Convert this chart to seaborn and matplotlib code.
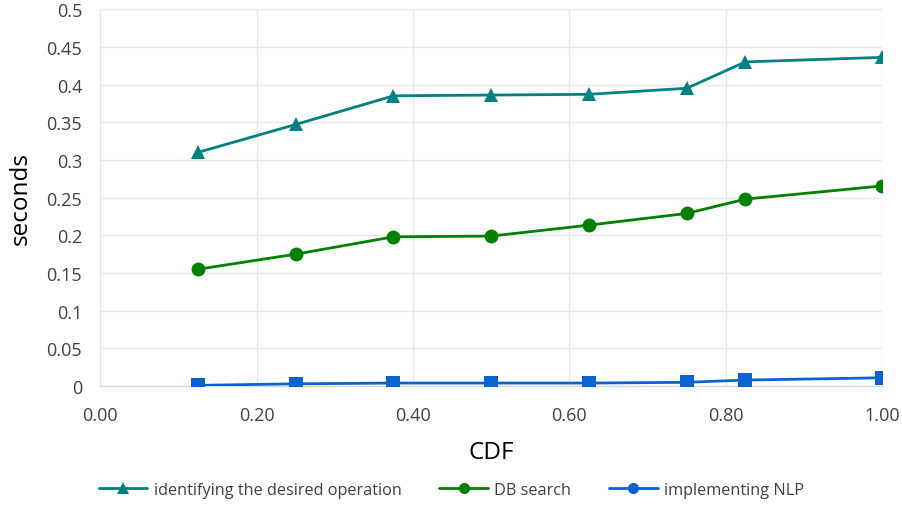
import matplotlib
matplotlib.use("Agg")
import matplotlib.pyplot as plt
from matplotlib.lines import Line2D
import seaborn as sns
import pandas as pd

cdf = [0.125, 0.25, 0.375, 0.5, 0.625, 0.75, 0.825, 1.0]
identify_op = [0.310, 0.347, 0.385, 0.386, 0.387, 0.395, 0.430, 0.436]
db_search = [0.155, 0.175, 0.198, 0.199, 0.2135, 0.229, 0.248, 0.2655]
nlp = [0.001, 0.003, 0.004, 0.004, 0.004, 0.005, 0.008, 0.011]

series_names = ["identifying the desired operation", "DB search", "implementing NLP"]
series_values = [identify_op, db_search, nlp]
colors = ["#008080", "#008000", "#0A63D0"]
markers = ["^", "o", "s"]
sizes = [10.5, 10, 9.5]

rows = []
for name, vals in zip(series_names, series_values):
    for x, y in zip(cdf, vals):
        rows.append({"CDF": x, "seconds": y, "series": name})
df = pd.DataFrame(rows)

sns.set_theme(style="white")
plt.rcParams["font.family"] = ["Open Sans", "DejaVu Sans"]

fig = plt.figure(figsize=(9.03, 5.06), dpi=100)
ax = fig.add_axes([0.111, 0.235, 0.866, 0.745])

for name, col, mk, ms in zip(series_names, colors, markers, sizes):
    sns.lineplot(data=df[df["series"] == name], x="CDF", y="seconds", ax=ax,
                 color=col, marker=mk, markersize=ms, markeredgewidth=0,
                 linewidth=2, legend=False, zorder=3)

xt = [0, 0.2, 0.4, 0.6, 0.8, 1.0]
ax.set_xlim(0, 1.0)
ax.set_ylim(0, 0.5)
ax.set_xticks(xt)
ax.set_xticklabels([f"{v:.2f}" for v in xt])
yt = [0, 0.05, 0.1, 0.15, 0.2, 0.25, 0.3, 0.35, 0.4, 0.45, 0.5]
ax.set_yticks(yt)
ax.set_yticklabels(["0", "0.05", "0.1", "0.15", "0.2", "0.25", "0.3", "0.35", "0.4", "0.45", "0.5"])
ax.tick_params(axis="both", length=0, labelsize=13, labelcolor="#404040")
ax.tick_params(axis="y", pad=13)
ax.tick_params(axis="x", pad=14)
ax.grid(True, color="#e8e8e8", linewidth=1)
ax.set_axisbelow(True)
for s in ["top", "right"]:
    ax.spines[s].set_visible(False)
ax.spines["left"].set_color("#e8e8e8")
ax.spines["bottom"].set_color("#d9d9d9")
for s in ["left", "bottom"]:
    ax.spines[s].set_linewidth(1)
ax.set_xlabel("CDF", fontsize=17.5, color="black", labelpad=12)
ax.set_ylabel("seconds", fontsize=17.5, color="black", labelpad=10)

handles = [
    Line2D([], [], color=colors[0], marker="^", markersize=8, linewidth=2, markeredgewidth=0),
    Line2D([], [], color=colors[1], marker="o", markersize=8, linewidth=2, markeredgewidth=0),
    Line2D([], [], color=colors[2], marker="o", markersize=8, linewidth=2, markeredgewidth=0),
]
fig.legend(handles, series_names, loc="center", bbox_to_anchor=(0.5, 0.030), ncol=3,
           frameon=False, fontsize=11.7, handlelength=3, columnspacing=2.3,
           handletextpad=0.4, labelcolor="#404040")

fig.savefig("out.png", dpi=100)
